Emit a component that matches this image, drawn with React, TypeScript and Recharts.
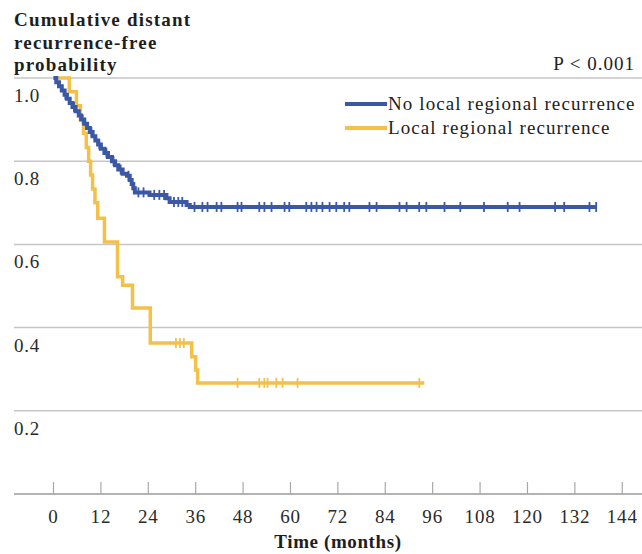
import React from 'react';
import { ComposedChart, Line, Scatter, XAxis, YAxis, CartesianGrid, Legend } from 'recharts';

// Axis ticks
const monthTicks = [0, 12, 24, 36, 48, 60, 72, 84, 96, 108, 120, 132, 144];
const probTicks = [0, 0.2, 0.4, 0.6, 0.8, 1.0];

// Kaplan-Meier: no local regional recurrence (event times in months, survival after each event)
const noLrrTimes = [0, 0.7, 1.4, 2.1, 2.8, 3.4, 4.1, 4.8, 5.6, 6.4, 7.0, 7.8, 8.5, 9.2, 9.9, 10.6, 11.3, 12.0, 12.9, 13.8, 14.8, 15.6, 16.4, 17.5, 18.6, 19.3, 19.8, 20.2, 20.6, 24.3, 28.6, 29.4, 33.7, 34.5, 137.4];
const noLrrSurv = [1.0, 0.99, 0.98, 0.97, 0.96, 0.95, 0.94, 0.93, 0.92, 0.91, 0.9, 0.89, 0.88, 0.87, 0.86, 0.85, 0.84, 0.83, 0.82, 0.81, 0.8, 0.79, 0.78, 0.77, 0.765, 0.755, 0.745, 0.735, 0.725, 0.719, 0.711, 0.702, 0.695, 0.69, 0.69];
const noLrrCensored = [3.0, 5.2, 7.4, 9.6, 11.6, 13.4, 15.2, 17.0, 19.0, 21.5, 22.8, 25.5, 26.8, 28.0, 30.5, 31.6, 32.6, 35.7, 37.7, 39.0, 41.3, 42.5, 46.6, 47.6, 52.1, 53.4, 55.2, 58.5, 59.7, 64.0, 65.3, 66.6, 68.1, 69.9, 71.6, 73.6, 74.9, 80.0, 81.8, 87.6, 89.4, 92.6, 94.4, 99.0, 103.0, 109.0, 115.0, 118.0, 127.0, 129.3, 135.7, 137.4];

// Kaplan-Meier: local regional recurrence
const lrrTimes = [0, 4.0, 5.8, 6.8, 7.6, 8.3, 8.9, 9.4, 9.9, 10.5, 11.2, 12.9, 16.2, 17.5, 20.0, 24.5, 35.0, 36.0, 36.5, 93.9];
const lrrSurv = [1.0, 0.967, 0.933, 0.9, 0.867, 0.833, 0.8, 0.767, 0.733, 0.7, 0.663, 0.606, 0.522, 0.502, 0.447, 0.363, 0.33, 0.298, 0.267, 0.267];
const lrrCensored = [31.0, 32.0, 33.0, 46.6, 52.1, 53.4, 54.2, 56.4, 58.0, 61.8, 92.6];

const BLUE = '#3A58A6';
const YELLOW = '#F3C04A';
const SERIF = '"Liberation Serif", "Times New Roman", serif';

const toCurve = (times: number[], surv: number[]) => times.map((t, i) => ({ t, p: surv[i] }));

const levelAt = (times: number[], surv: number[], t: number) => {
  let idx = 0;
  for (let i = 0; i < times.length; i++) if (times[i] <= t) idx = i;
  return surv[idx];
};

const toCensorMarks = (cens: number[], times: number[], surv: number[]) =>
  cens.map((t) => ({ t, p: levelAt(times, surv, t) }));

const noLrrCurve = toCurve(noLrrTimes, noLrrSurv);
const lrrCurve = toCurve(lrrTimes, lrrSurv);
const noLrrMarks = toCensorMarks(noLrrCensored, noLrrTimes, noLrrSurv);
const lrrMarks = toCensorMarks(lrrCensored, lrrTimes, lrrSurv);

const makeCensorShape = (color: string) => (props: any) => {
  const { cx, cy } = props;
  return <line x1={cx} x2={cx} y1={cy - 5} y2={cy + 5} stroke={color} strokeWidth={1.8} />;
};

const renderXTick = (props: any) => {
  const { x, y, payload } = props;
  return (
    <g key={`xt-${payload.value}`}>
      <line x1={x} x2={x} y1={y - 12} y2={y} stroke="#a8a8a8" strokeWidth={1.2} />
      <text x={x} y={y + 29} textAnchor="middle" fontFamily={SERIF} fontSize={19} letterSpacing={0.8} fill="#2a2a2a">
        {payload.value}
      </text>
    </g>
  );
};

const renderYTick = (props: any) => {
  const { y, payload } = props;
  if (payload.value === 0) return <g key="yt-0" />;
  return (
    <text key={`yt-${payload.value}`} x={14} y={y + 24} textAnchor="start" fontFamily={SERIF} fontSize={19} letterSpacing={0.8} fill="#2a2a2a">
      {Number(payload.value).toFixed(1)}
    </text>
  );
};

const legendItems = [
  { label: 'No local regional recurrence', color: BLUE },
  { label: 'Local regional recurrence', color: YELLOW },
];

const LegendBox = () => (
  <div style={{ fontFamily: SERIF, fontSize: 19, letterSpacing: 1.1, color: '#222', lineHeight: '24px' }}>
    {legendItems.map((it) => (
      <div key={it.label} style={{ display: 'flex', alignItems: 'center', whiteSpace: 'nowrap' }}>
        <span style={{ display: 'inline-block', width: 42, height: 4, background: it.color, marginRight: 1 }} />
        <span>{it.label}</span>
      </div>
    ))}
  </div>
);

export default function App() {
  return (
    <div style={{ position: 'absolute', left: 0, top: 0, width: 642, height: 554, background: '#fff' }}>
      <ComposedChart width={642} height={554} margin={{ top: 78, right: 0, bottom: 59, left: 13 }}>
        <CartesianGrid horizontal vertical={false} stroke="#c6c6c6" strokeWidth={1.5} />
        <XAxis
          type="number"
          dataKey="t"
          domain={[-10, 149]}
          ticks={monthTicks}
          allowDataOverflow
          height={1}
          tickSize={0}
          tickMargin={0}
          tickLine={false}
          axisLine={{ stroke: '#a8a8a8', strokeWidth: 1.5 }}
          tick={renderXTick}
          interval={0}
        />
        <YAxis
          type="number"
          dataKey="p"
          domain={[0, 1]}
          ticks={probTicks}
          width={1}
          tickSize={0}
          tickMargin={0}
          tickLine={false}
          axisLine={false}
          tick={renderYTick}
          interval={0}
        />
        <Legend
          layout="vertical"
          align="center"
          verticalAlign="middle"
          content={<LegendBox />}
          wrapperStyle={{ left: 345, top: 92, width: 'auto' }}
        />
        {/* local regional recurrence sits underneath the other curve */}
        <Line
          data={lrrCurve}
          dataKey="p"
          type="stepAfter"
          stroke={YELLOW}
          strokeWidth={3.5}
          strokeLinejoin="miter"
          dot={false}
          activeDot={false}
          isAnimationActive={false}
        />
        <Scatter data={lrrMarks} dataKey="p" shape={makeCensorShape(YELLOW)} isAnimationActive={false} />
        <Line
          data={noLrrCurve}
          dataKey="p"
          type="stepAfter"
          stroke={BLUE}
          strokeWidth={4}
          strokeLinejoin="miter"
          dot={false}
          activeDot={false}
          isAnimationActive={false}
        />
        <Scatter data={noLrrMarks} dataKey="p" shape={makeCensorShape(BLUE)} isAnimationActive={false} />
      </ComposedChart>

      <div
        style={{
          position: 'absolute',
          left: 14,
          top: 9,
          fontFamily: SERIF,
          fontWeight: 'bold',
          fontSize: 19,
          lineHeight: '22.5px',
          letterSpacing: 1.2,
          color: '#1e1e1e',
        }}
      >
        <div>Cumulative distant</div>
        <div>recurrence-free</div>
        <div>probability</div>
      </div>
      <div
        style={{
          position: 'absolute',
          right: 7,
          top: 53,
          fontFamily: SERIF,
          fontSize: 19,
          lineHeight: '22.5px',
          letterSpacing: 1,
          color: '#222',
          whiteSpace: 'nowrap',
        }}
      >
        P &lt; 0.001
      </div>
      <div
        style={{
          position: 'absolute',
          left: 338,
          top: 531,
          transform: 'translateX(-50%)',
          fontFamily: SERIF,
          fontWeight: 'bold',
          fontSize: 19,
          lineHeight: '22.5px',
          letterSpacing: 0.6,
          color: '#1e1e1e',
          whiteSpace: 'nowrap',
        }}
      >
        Time (months)
      </div>
    </div>
  );
}
